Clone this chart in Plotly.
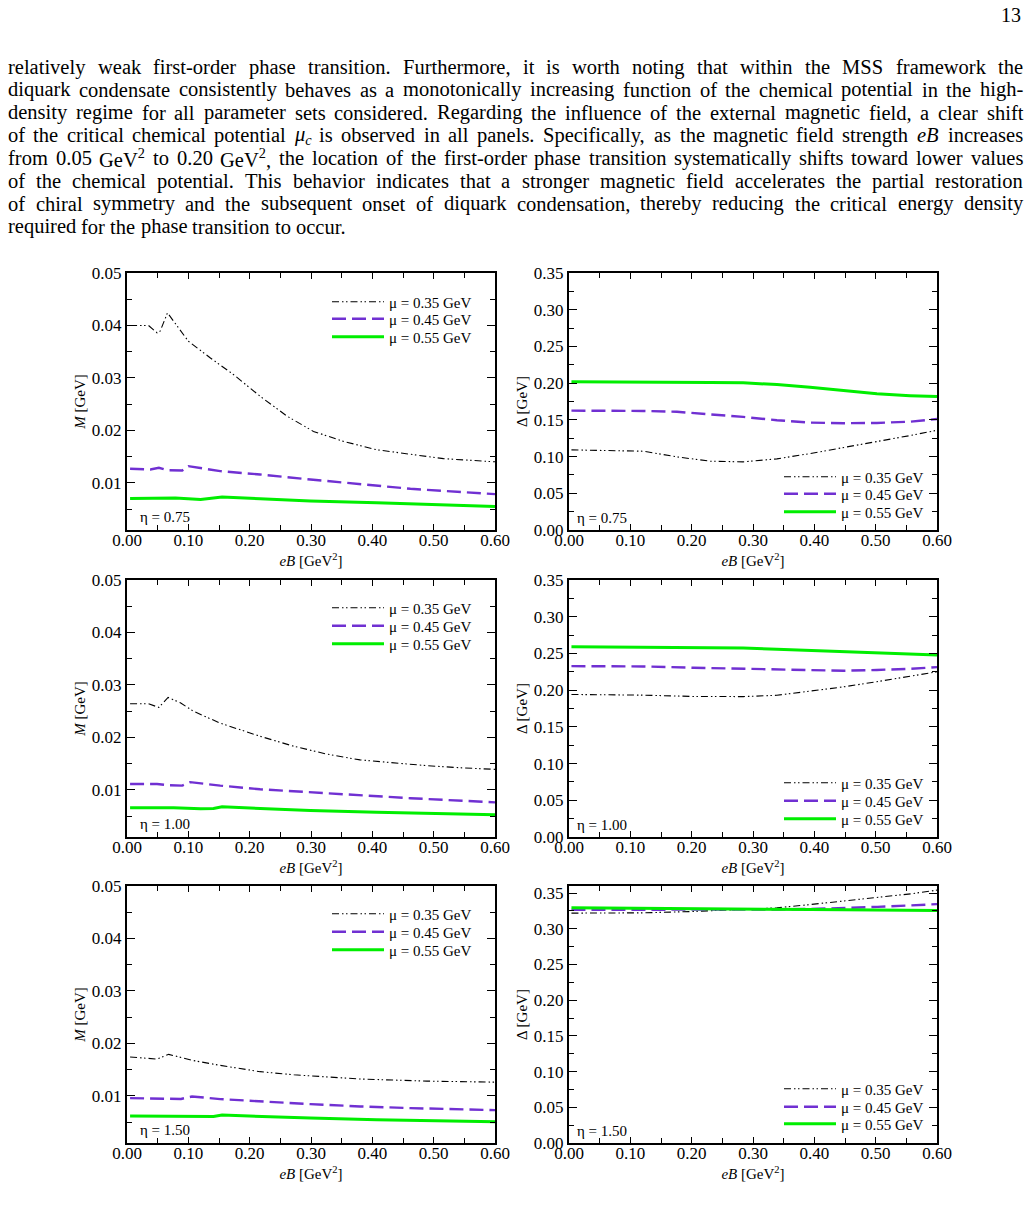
import plotly.graph_objects as go

W, H = 1028, 1211
FONT = "Liberation Serif, Times New Roman, Times, serif"

# ---------------- data ----------------
eta_labels = ["η = 0.75", "η = 1.00", "η = 1.50"]
mu_labels = ["μ = 0.35 GeV", "μ = 0.45 GeV", "μ = 0.55 GeV"]
x_ticks = [0.0, 0.1, 0.2, 0.3, 0.4, 0.5, 0.6]

# eta = 0.75, M
M075_x_a = [0.005, 0.035, 0.049, 0.054, 0.066, 0.076, 0.10, 0.136, 0.174, 0.217, 0.261, 0.304, 0.353, 0.407, 0.462, 0.516, 0.60]
M075_a = [0.0400, 0.0400, 0.0386, 0.0389, 0.0424, 0.0408, 0.0370, 0.0338, 0.0306, 0.0265, 0.0227, 0.0198, 0.0179, 0.0163, 0.0154, 0.0146, 0.0140]
M075_x_b = [0.005, 0.038, 0.052, 0.065, 0.09, 0.10, 0.152, 0.217, 0.299, 0.38, 0.462, 0.60]
M075_b = [0.01267, 0.01254, 0.01286, 0.01241, 0.01235, 0.01317, 0.01222, 0.01159, 0.01063, 0.00968, 0.00886, 0.00784]
M075_x_c = [0.005, 0.054, 0.079, 0.12, 0.141, 0.155, 0.217, 0.299, 0.407, 0.489, 0.60]
M075_c = [0.00702, 0.00702, 0.00708, 0.00683, 0.00708, 0.00727, 0.00695, 0.00651, 0.00620, 0.00587, 0.00549]

# eta = 0.75, Delta
D075_x = [0.004, 0.067, 0.121, 0.176, 0.23, 0.284, 0.339, 0.393, 0.448, 0.502, 0.556, 0.60]
D075_a = [0.1091, 0.1082, 0.1073, 0.0996, 0.0937, 0.0928, 0.0969, 0.1041, 0.1122, 0.1209, 0.1286, 0.1358]
D075_b = [0.1626, 0.1624, 0.1621, 0.1610, 0.1580, 0.1540, 0.1495, 0.1462, 0.1454, 0.1458, 0.1475, 0.1512]
D075_c = [0.2020, 0.2020, 0.2020, 0.2015, 0.2010, 0.2004, 0.1980, 0.1945, 0.1900, 0.1855, 0.1830, 0.1817]

# eta = 1.00, M
M100_x_a = [0.005, 0.035, 0.052, 0.067, 0.087, 0.108, 0.152, 0.217, 0.272, 0.326, 0.38, 0.434, 0.489, 0.543, 0.60]
M100_a = [0.0264, 0.0264, 0.0257, 0.0276, 0.0266, 0.0250, 0.0227, 0.0202, 0.0183, 0.0168, 0.0157, 0.0151, 0.0146, 0.0142, 0.0139]
M100_x_b = [0.005, 0.049, 0.065, 0.09, 0.103, 0.152, 0.217, 0.299, 0.38, 0.462, 0.60]
M100_b = [0.0111, 0.0111, 0.0109, 0.0108, 0.01146, 0.0108, 0.0101, 0.0095, 0.0090, 0.0084, 0.0076]
M100_x_c = [0.005, 0.076, 0.12, 0.141, 0.155, 0.217, 0.299, 0.407, 0.60]
M100_c = [0.00656, 0.00656, 0.00637, 0.00643, 0.00675, 0.00643, 0.00605, 0.00573, 0.00522]

# eta = 1.00, Delta
D100_x = [0.004, 0.121, 0.203, 0.284, 0.339, 0.393, 0.448, 0.502, 0.556, 0.60]
D100_a = [0.1941, 0.1932, 0.1914, 0.1912, 0.1930, 0.1982, 0.2045, 0.2115, 0.2185, 0.2250]
D100_b = [0.2327, 0.2323, 0.2305, 0.2290, 0.2275, 0.2266, 0.2264, 0.2275, 0.2290, 0.2314]
D100_c = [0.2590, 0.2586, 0.2580, 0.2573, 0.2558, 0.2540, 0.2518, 0.2500, 0.2485, 0.2477]

# eta = 1.50, M
M150_x_a = [0.005, 0.049, 0.068, 0.109, 0.152, 0.217, 0.272, 0.326, 0.38, 0.434, 0.489, 0.60]
M150_a = [0.0174, 0.0170, 0.0179, 0.0167, 0.0158, 0.0146, 0.0140, 0.0136, 0.0132, 0.0130, 0.0128, 0.0126]
M150_x_b = [0.005, 0.049, 0.07, 0.088, 0.106, 0.152, 0.217, 0.299, 0.38, 0.462, 0.60]
M150_b = [0.00956, 0.00956, 0.00943, 0.00940, 0.00987, 0.00937, 0.00892, 0.00841, 0.00797, 0.00765, 0.00727]
M150_x_c = [0.005, 0.076, 0.12, 0.141, 0.155, 0.217, 0.299, 0.407, 0.60]
M150_c = [0.00613, 0.00613, 0.00600, 0.00606, 0.00632, 0.00606, 0.00575, 0.00543, 0.00505]

# eta = 1.50, Delta
D150_x = [0.004, 0.121, 0.203, 0.285, 0.339, 0.394, 0.448, 0.503, 0.557, 0.60]
D150_a = [0.3220, 0.3224, 0.3243, 0.3271, 0.3294, 0.3341, 0.3388, 0.3435, 0.3490, 0.3542]
D150_b = [0.3266, 0.3266, 0.3266, 0.3268, 0.3271, 0.3278, 0.3290, 0.3308, 0.3328, 0.3346]
D150_c = [0.3294, 0.3290, 0.3285, 0.3280, 0.3276, 0.3271, 0.3266, 0.3262, 0.3259, 0.3257]

paragraph = [
    "relatively weak first-order phase transition.  Furthermore, it is worth noting that within the MSS framework the",
    "diquark condensate consistently behaves as a monotonically increasing function of the chemical potential in the high-",
    "density regime for all parameter sets considered. Regarding the influence of the external magnetic field, a clear shift",
    "of the critical chemical potential <i>μ<sub>c</sub></i> is observed in all panels. Specifically, as the magnetic field strength <i>eB</i> increases",
    "from 0.05 GeV<sup>2</sup> to 0.20 GeV<sup>2</sup>, the location of the first-order phase transition systematically shifts toward lower values",
    "of the chemical potential.  This behavior indicates that a stronger magnetic field accelerates the partial restoration",
    "of chiral symmetry and the subsequent onset of diquark condensation, thereby reducing the critical energy density",
    "required for the phase transition to occur.",
]

# ---------------- styles ----------------
line_styles = [
    dict(color="black", width=1.1, dash="7px,3px,1.5px,2.5px,1.5px,3px"),
    dict(color="#7030d2", width=2.4, dash="14px,6px"),
    dict(color="#00ee00", width=3),
]

panels = [
    ([M075_x_a, M075_x_b, M075_x_c], [M075_a, M075_b, M075_c], 0, "M"),
    ([D075_x, D075_x, D075_x], [D075_a, D075_b, D075_c], 0, "D"),
    ([M100_x_a, M100_x_b, M100_x_c], [M100_a, M100_b, M100_c], 1, "M"),
    ([D100_x, D100_x, D100_x], [D100_a, D100_b, D100_c], 1, "D"),
    ([M150_x_a, M150_x_b, M150_x_c], [M150_a, M150_b, M150_c], 2, "M"),
    ([D150_x, D150_x, D150_x], [D150_a, D150_b, D150_c], 2, "D"),
]

col_px = [(127, 495), (569, 937)]
row_px = [(273, 530), (580, 837), (886, 1143)]
legend_rows_left = [[302, 319, 337], [608, 626, 644], [914, 932, 950]]
legend_rows_right = [[477, 494, 512], [783, 801, 819], [1089, 1107, 1124]]
legend_x_px = [327, 779]

fig = go.Figure()
layout = dict(
    width=W, height=H, margin=dict(l=0, r=0, t=0, b=0, autoexpand=False),
    paper_bgcolor="white", plot_bgcolor="white",
    font=dict(family=FONT, color="black", size=15),
    showlegend=True,
)
annotations = []

leg_n = 0
for i, (xs, ys, ei, kind) in enumerate(panels):
    r, c = divmod(i, 2)
    ax = "" if i == 0 else str(i + 1)
    xdom = [col_px[c][0] / W, col_px[c][1] / W]
    ydom = [1 - row_px[r][1] / H, 1 - row_px[r][0] / H]
    common = dict(showline=True, linecolor="black", linewidth=2, mirror="ticks",
                  ticks="inside", tickcolor="black", tickwidth=1.2, showgrid=False,
                  zeroline=False, automargin=False,
                  tickfont=dict(family=FONT, size=17, color="black"))
    layout["xaxis" + ax] = dict(common, domain=xdom, anchor="y" + ax, range=[0, 0.6],
                                tickvals=x_ticks, tickformat=".2f", ticklen=6,
                                ticklabelstandoff=-6,
                                minor=dict(dtick=0.05, ticks="inside", ticklen=5, tickcolor="black", tickwidth=1.2),
                                title=dict(text="<i>eB</i> [GeV<sup>2</sup>]", font=dict(family=FONT, size=15), standoff=6))
    if kind == "M":
        layout["yaxis" + ax] = dict(common, domain=ydom, anchor="x" + ax, range=[0.001, 0.05],
                                    dtick=0.01, tick0=0, tickformat=".2f", ticklen=8,
                                    minor=dict(dtick=0.005, ticks="inside", ticklen=5, tickcolor="black", tickwidth=1.2),
                                    title=dict(text="<i>M</i> [GeV]", font=dict(family=FONT, size=15), standoff=3))
    else:
        yr = [0, 0.36] if r == 2 else [0, 0.35]
        layout["yaxis" + ax] = dict(common, domain=ydom, anchor="x" + ax, range=yr,
                                    dtick=0.05, tick0=0, tickformat=".2f", ticklen=8,
                                    minor=dict(dtick=0.025, ticks="inside", ticklen=5, tickcolor="black", tickwidth=1.2),
                                    title=dict(text="Δ [GeV]", font=dict(family=FONT, size=15), standoff=3))
    rows = legend_rows_left[r] if c == 0 else legend_rows_right[r]
    for k in range(3):
        leg_n += 1
        lname = "legend" if leg_n == 1 else "legend%d" % leg_n
        fig.add_trace(go.Scatter(x=xs[k], y=ys[k], mode="lines", line=line_styles[k],
                                 name=mu_labels[k], xaxis="x" + ax, yaxis="y" + ax,
                                 legend=lname, showlegend=True))
        layout[lname] = dict(x=legend_x_px[c] / W, xanchor="left",
                             y=1 - rows[k] / H, yanchor="middle",
                             bgcolor="rgba(0,0,0,0)", borderwidth=0,
                             font=dict(family=FONT, size=15, color="black"),
                             itemwidth=52, tracegroupgap=0)
    annotations.append(dict(text=eta_labels[ei], xref=("x" + ax + " domain"), yref=("y" + ax + " domain"),
                            x=(0.03 if c == 0 else 0.016), y=(0.05 if c == 0 else 0.045),
                            xanchor="left", yanchor="middle", showarrow=False,
                            font=dict(family=FONT, size=15, color="black")))

# ---------------- paragraph text (justified by word) ----------------
TW = {' ': 250, '!': 333, ',': 250, '-': 333, '.': 250, ':': 278, 'μ': 500, 'η': 500,
      'A': 722, 'B': 667, 'C': 667, 'D': 722, 'E': 611, 'F': 556, 'G': 722, 'H': 722, 'I': 333,
      'J': 389, 'K': 722, 'L': 611, 'M': 889, 'N': 722, 'O': 722, 'P': 556, 'Q': 722, 'R': 667,
      'S': 556, 'T': 611, 'U': 722, 'V': 722, 'W': 944, 'X': 722, 'Y': 722, 'Z': 611,
      'a': 444, 'b': 500, 'c': 444, 'd': 500, 'e': 444, 'f': 333, 'g': 500, 'h': 500, 'i': 278,
      'j': 278, 'k': 500, 'l': 278, 'm': 778, 'n': 500, 'o': 500, 'p': 500, 'q': 500, 'r': 333,
      's': 389, 't': 278, 'u': 500, 'v': 500, 'w': 722, 'x': 500, 'y': 500, 'z': 444}


def text_width(s, size):
    w = 0.0
    scale = 1.0
    j = 0
    while j < len(s):
        if s[j] == '<':
            end = s.index('>', j)
            tag = s[j + 1:end]
            if tag in ("sup", "sub"):
                scale = 0.7
            elif tag in ("/sup", "/sub"):
                scale = 1.0
            j = end + 1
            continue
        w += TW.get(s[j], 500) / 1000 * size * scale
        j += 1
    return w


PSIZE = 20.5
left, right = 7, 1022
for li, line in enumerate(paragraph):
    yc = 67 + 22.8 * li
    words = line.split()
    size = PSIZE
    if li == len(paragraph) - 1:
        widths = [text_width(wd, size) for wd in words]
        gap = 0.25 * size
    else:
        while True:
            widths = [text_width(wd, size) for wd in words]
            gap = (right - left - sum(widths)) / (len(words) - 1)
            if gap >= 0.22 * size or size < 16:
                break
            size -= 0.25
    xpos = left
    for wd, ww in zip(words, widths):
        annotations.append(dict(text=wd, xref="paper", yref="paper", x=xpos / W, y=1 - yc / H,
                                xanchor="left", yanchor="middle", showarrow=False, borderpad=0,
                                font=dict(family=FONT, size=size, color="black")))
        xpos += ww + gap

annotations.append(dict(text="13", xref="paper", yref="paper", x=1022 / W, y=1 - 15 / H,
                        xanchor="right", yanchor="middle", showarrow=False, borderpad=0,
                        font=dict(family=FONT, size=20, color="black")))

layout["annotations"] = annotations
fig.update_layout(**layout)
fig.write_html("out.html",
               post_script="document.body.style.margin='0';document.body.style.padding='0';"
                           "document.documentElement.style.overflow='hidden';")
